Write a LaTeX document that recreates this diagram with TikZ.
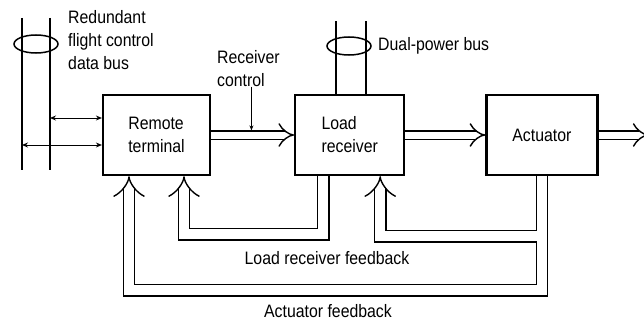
\documentclass[tikz,border=0pt]{standalone}
\usepackage{fontspec}
\setmainfont[FakeStretch=0.88]{Liberation Sans}
\usepackage{tikz}
\usetikzlibrary{arrows.meta,positioning,calc}
\newcommand{\dfont}{\fontsize{18}{23}\selectfont}
\tikzstyle{blk}=[rectangle,draw,line width=2.2pt,minimum height=80pt,align=left,font=\dfont,inner sep=0pt]
\tikzstyle{lbl}=[inner sep=0pt,align=left,font=\dfont]
\tikzstyle{sig}=[double,double distance=7pt,line width=1.4pt,-{Implies}]
\tikzstyle{fb}=[double,double distance=10pt,line width=1.4pt]
\tikzstyle{io}=[line width=1pt,{Stealth[length=6pt,width=5pt]}-{Stealth[length=6pt,width=5pt]}]
\tikzstyle{bus}=[line width=1.5pt]

\begin{document}
\begin{tikzpicture}[x=1pt,y=-1pt,node distance=83pt]
\useasboundingbox (0,0) rectangle (644,321);
% blocks
\node[blk,minimum width=107pt] (rt) at (156.5,135) {Remote\\terminal};
\node[blk,minimum width=109pt,right=of rt] (lr) {Load\\receiver};
\node[blk,minimum width=111pt,right=80pt of lr] (act) {Actuator};
\coordinate[right=50pt of act.east] (out);

% redundant bus
\draw[bus] (22,18) coordinate (bl) -- (22,170);
\draw[bus] (50,18) coordinate (br) -- (50,170);
\draw[bus] (36,44) ellipse [x radius=22,y radius=9];
\node[lbl,anchor=north west] (rbus) at (68,10) {Redundant\\flight control\\data bus};

% power bus
\draw[bus] ([xshift=-13.5pt]lr.north) -- ++(0,-73);
\draw[bus] ([xshift=16.5pt]lr.north) -- ++(0,-73);
\draw[bus] (349,46) ellipse [x radius=22,y radius=9];
\node[lbl,anchor=west] (pbus) at (378,46) {Dual-power bus};

% receiver control
\node[lbl,anchor=north west] (rc) at (217,50) {Receiver\\control};
\draw[line width=1.2pt,-{Stealth[length=5pt,width=4pt]}] ([xshift=3pt]rc.south) -- ($([xshift=3pt]rc.south |- rt.east)+(0,-4.6)$);

% signal paths
\draw[io] ([yshift=17pt]rt.west) coordinate (p1) -- (br |- p1);
\draw[io] ([yshift=-10pt]rt.west) coordinate (p2) -- (bl |- p2);
\draw[sig] (rt) -- (lr);
\draw[sig] (lr) -- (act);
\draw[sig] (act) -- (out);

% feedback
\draw[fb,-Implies] ([xshift=-26.5pt]lr.south) -- ++(0,58) -| ([xshift=27.5pt]rt.south);
\draw[fb,Implies-Implies] (act.south) -- ($(act.south)+(0,60)$)
  ([xshift=30.5pt]lr.south) |- ($(act.south)+(0,60)$) -- ($(act.south)+(0,114)$)
  -| ([xshift=-27.5pt]rt.south);
\node[lbl] (lrfb) at (327,258) {Load receiver feedback};
\node[lbl] (actfb) at (328,311) {Actuator feedback};
\end{tikzpicture}
\end{document}
